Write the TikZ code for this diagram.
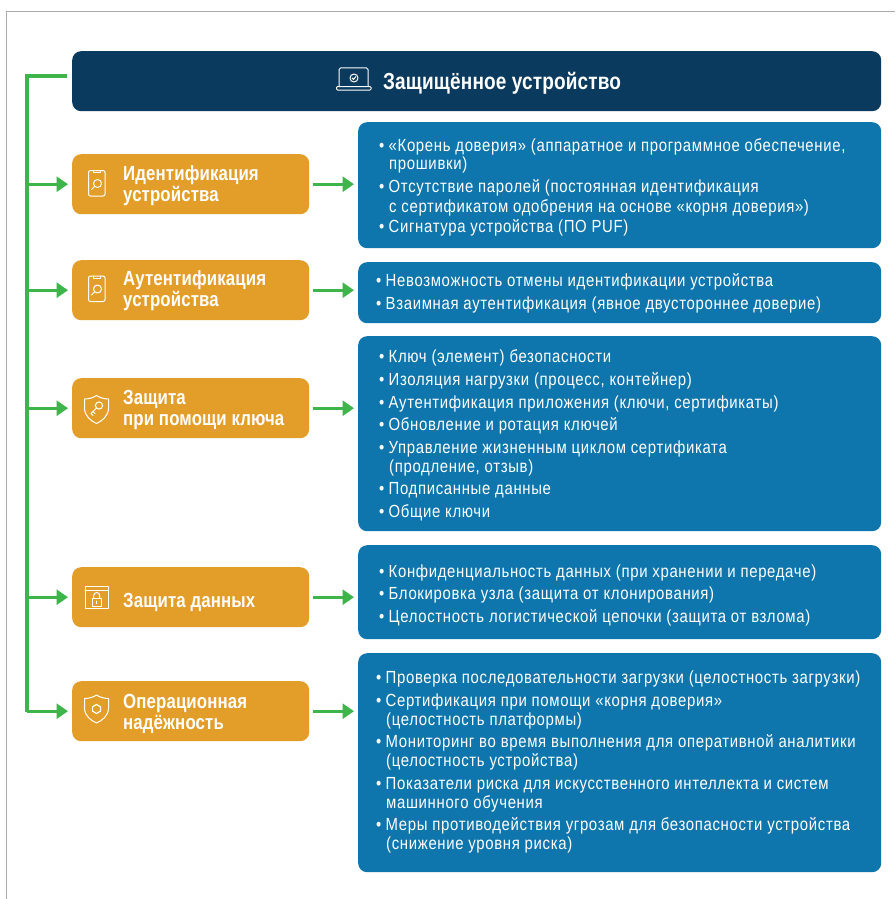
\documentclass[tikz,border=0pt]{standalone}
\usepackage{fontspec}
\setmainfont[FakeStretch=0.85,LetterSpace=3.8,BoldFeatures={FakeStretch=0.82,LetterSpace=0.6}]{Liberation Sans}
\usetikzlibrary{arrows.meta}
\definecolor{navy}{HTML}{0A3A5E}
\definecolor{amber}{HTML}{E39E2A}
\definecolor{steel}{HTML}{0E76AC}
\definecolor{leaf}{HTML}{3DB54A}
\definecolor{frameg}{HTML}{ABABAB}
\newcommand{\bone}[1]{\hbox{\makebox[9.5pt][l]{•}#1}}
\newcommand{\btwo}[3]{\vtop{\baselineskip=#3pt\hbox{\makebox[9.5pt][l]{•}#1}\hbox{\hspace{10pt}#2}}}
\newcommand{\ltwo}[2]{\vtop{\baselineskip=21pt\hbox{#1}\hbox{#2}}}
\tikzset{
  x=1pt,y=-1pt,
  headbox/.style={fill=navy,rounded corners=9pt,draw=none,inner sep=0pt,anchor=north west,minimum width=809pt,minimum height=60pt},
  catbox/.style={fill=amber,rounded corners=9pt,draw=none,inner sep=0pt,anchor=north west,minimum width=237pt,minimum height=60pt},
  listbox/.style={fill=steel,rounded corners=9pt,draw=none,inner sep=0pt,anchor=north west,minimum width=523pt},
  cattext/.style={text=white,font=\fontsize{20.5}{21}\selectfont\bfseries,inner sep=0pt,anchor=base west},
  titletext/.style={text=white,font=\fontsize{23.2}{24}\selectfont\bfseries,inner sep=0pt,anchor=base west},
  item/.style={text=white,font=\fontsize{17.55}{19}\selectfont,inner sep=0pt,anchor=base west},
  link/.style={draw=leaf,line width=3.4pt,-{Triangle[length=11.5pt,width=15pt]}},
  bus/.style={draw=leaf,line width=3.2pt},
  glyph/.style={draw=white,line width=1pt,fill=none,line cap=round,line join=round},
}
\begin{document}
\begin{tikzpicture}
\useasboundingbox (0,0) rectangle (895,899);
\fill[white] (0,0) rectangle (895,899);
\draw[frameg,line width=1pt] (6,899) -- (6,12) -- (895,12);

% boxes
\node[headbox] (head) at (72,51) {};
\node[catbox] (c1) at (72,154) {};
\node[catbox] (c2) at (72,260) {};
\node[catbox] (c3) at (72,378) {};
\node[catbox] (c4) at (72,567) {};
\node[catbox] (c5) at (72,681) {};
\node[listbox,minimum height=126pt] (b1) at (358,122) {};
\node[listbox,minimum height=61pt] (b2) at (358,262) {};
\node[listbox,minimum height=195pt] (b3) at (358,336) {};
\node[listbox,minimum height=94pt] (b4) at (358,545) {};
\node[listbox,minimum height=219pt] (b5) at (358,653) {};

% connectors
\coordinate (top) at (27,76);
\coordinate (headstub) at (67,76);
\draw[bus,line cap=butt] (headstub) -- (top) -- (27,712);
\foreach \n in {c1,c2,c3,c4,c5}{
  \draw[link,shorten >=4pt] (top |- \n.west) -- (\n.west);
}
\foreach \n/\m in {c1/b1,c2/b2,c3/b3,c4/b4,c5/b5}{
  \draw[link,shorten <=4pt,shorten >=4pt] (\n.east) -- (\n.east -| \m.west);
}

% header text
\node[titletext] (title) at (383,89) {Защищённое устройство};

% category labels
\node[cattext] (l1) at (123,180) {\ltwo{Идентификация}{устройства}};
\node[cattext] (l2) at (123,285) {\ltwo{Аутентификация}{устройства}};
\node[cattext] (l3) at (123,404) {\ltwo{Защита}{при помощи ключа}};
\node[cattext] (l4) at (123,607) {Защита данных};
\node[cattext] (l5) at (123,708) {\ltwo{Операционная}{надёжность}};

% list 1
\node[item] (i11) at (379,151) {\btwo{«Корень доверия» (аппаратное и программное обеспечение,}{прошивки)}{18}};
\node[item] (i12) at (379,192) {\btwo{Отсутствие паролей (постоянная идентификация}{с сертификатом одобрения на основе «корня доверия»)}{20}};
\node[item] (i13) at (379,232) {\bone{Сигнатура устройства (ПО PUF)}};
% list 2
\node[item] (i21) at (376,286) {\bone{Невозможность отмены идентификации устройства}};
\node[item] (i22) at (376,309) {\bone{Взаимная аутентификация (явное двустороннее доверие)}};
% list 3
\node[item] (i31) at (379,362) {\bone{Ключ (элемент) безопасности}};
\node[item] (i32) at (379,385) {\bone{Изоляция нагрузки (процесс, контейнер)}};
\node[item] (i33) at (379,408) {\bone{Аутентификация приложения (ключи, сертификаты)}};
\node[item] (i34) at (379,430) {\bone{Обновление и ротация ключей}};
\node[item] (i35) at (379,453) {\btwo{Управление жизненным циклом сертификата}{(продление, отзыв)}{19}};
\node[item] (i36) at (379,494) {\bone{Подписанные данные}};
\node[item] (i37) at (379,517) {\bone{Общие ключи}};
% list 4
\node[item] (i41) at (379,577) {\bone{Конфиденциальность данных (при хранении и передаче)}};
\node[item] (i42) at (379,599) {\bone{Блокировка узла (защита от клонирования)}};
\node[item] (i43) at (379,622) {\bone{Целостность логистической цепочки (защита от взлома)}};
% list 5
\node[item] (i51) at (376,683) {\bone{Проверка последовательности загрузки (целостность загрузки)}};
\node[item] (i52) at (376,706) {\btwo{Сертификация при помощи «корня доверия»}{(целостность платформы)}{19}};
\node[item] (i53) at (376,747) {\btwo{Мониторинг во время выполнения для оперативной аналитики}{(целостность устройства)}{19}};
\node[item] (i54) at (376,789) {\btwo{Показатели риска для искусственного интеллекта и систем}{машинного обучения}{19}};
\node[item] (i55) at (376,830) {\btwo{Меры противодействия угрозам для безопасности устройства}{(снижение уровня риска)}{19}};

% laptop icon
\draw[glyph,rounded corners=1.5pt] (339,86.5) -- (339,68) -- (368,68) -- (368,86.5);
\draw[glyph,rounded corners=1pt] (336.5,86.5) -- (371,86.5) -- (371,90) -- (336.5,90) -- cycle;
\draw[glyph] (354,78) circle[radius=4];
\draw[glyph] (352.2,78) -- (353.6,79.4) -- (355.8,76.6);

% phone + magnifier icons
\foreach \dy in {0,105.5}{
  \begin{scope}[yshift=-\dy pt]
    \draw[glyph,rounded corners=2pt] (88.5,170.5) rectangle (105,196);
    \draw[glyph] (93,170.5) -- (93,172.5) -- (100.5,172.5) -- (100.5,170.5);
    \draw[glyph] (97.5,183.5) circle[radius=4];
    \draw[glyph] (94.5,186.5) -- (91.5,189.5);
  \end{scope}
}

% shield key icon
\draw[glyph] (96.5,395.5) .. controls (100,398) and (105,399) .. (108.5,399) -- (108.5,408) .. controls (108.5,416) and (102,421) .. (96.5,423.5) .. controls (91,421) and (84.5,416) .. (84.5,408) -- (84.5,399) .. controls (88,399) and (93,398) .. (96.5,395.5) -- cycle;
\draw[glyph] (99,405.5) circle[radius=3.6];
\draw[glyph] (96.5,408) -- (91,413.5) -- (93,415.5);
\draw[glyph] (93,411.5) -- (95,413.5);

% window lock icon
\draw[glyph] (85,586) rectangle (108,608);
\draw[glyph] (85,590) -- (108,590);
\draw[glyph] (92,598) rectangle (101.5,606);
\draw[glyph] (93.7,598) -- (93.7,595.5) arc[start angle=180,end angle=360,radius=3] -- (99.7,598);
\draw[glyph] (96.7,601) -- (96.7,603.5);

% shield hex icon
\draw[glyph] (96.5,695) .. controls (100,697.5) and (105,698.5) .. (108.5,698.5) -- (108.5,708) .. controls (108.5,716) and (102,720.5) .. (96.5,723) .. controls (91,720.5) and (84.5,716) .. (84.5,708) -- (84.5,698.5) .. controls (88,698.5) and (93,697.5) .. (96.5,695) -- cycle;
\draw[glyph,line width=1.2pt] (96.5,704.5) -- (100.4,706.7) -- (100.4,711.2) -- (96.5,713.5) -- (92.6,711.2) -- (92.6,706.7) -- cycle;
\end{tikzpicture}
\end{document}
